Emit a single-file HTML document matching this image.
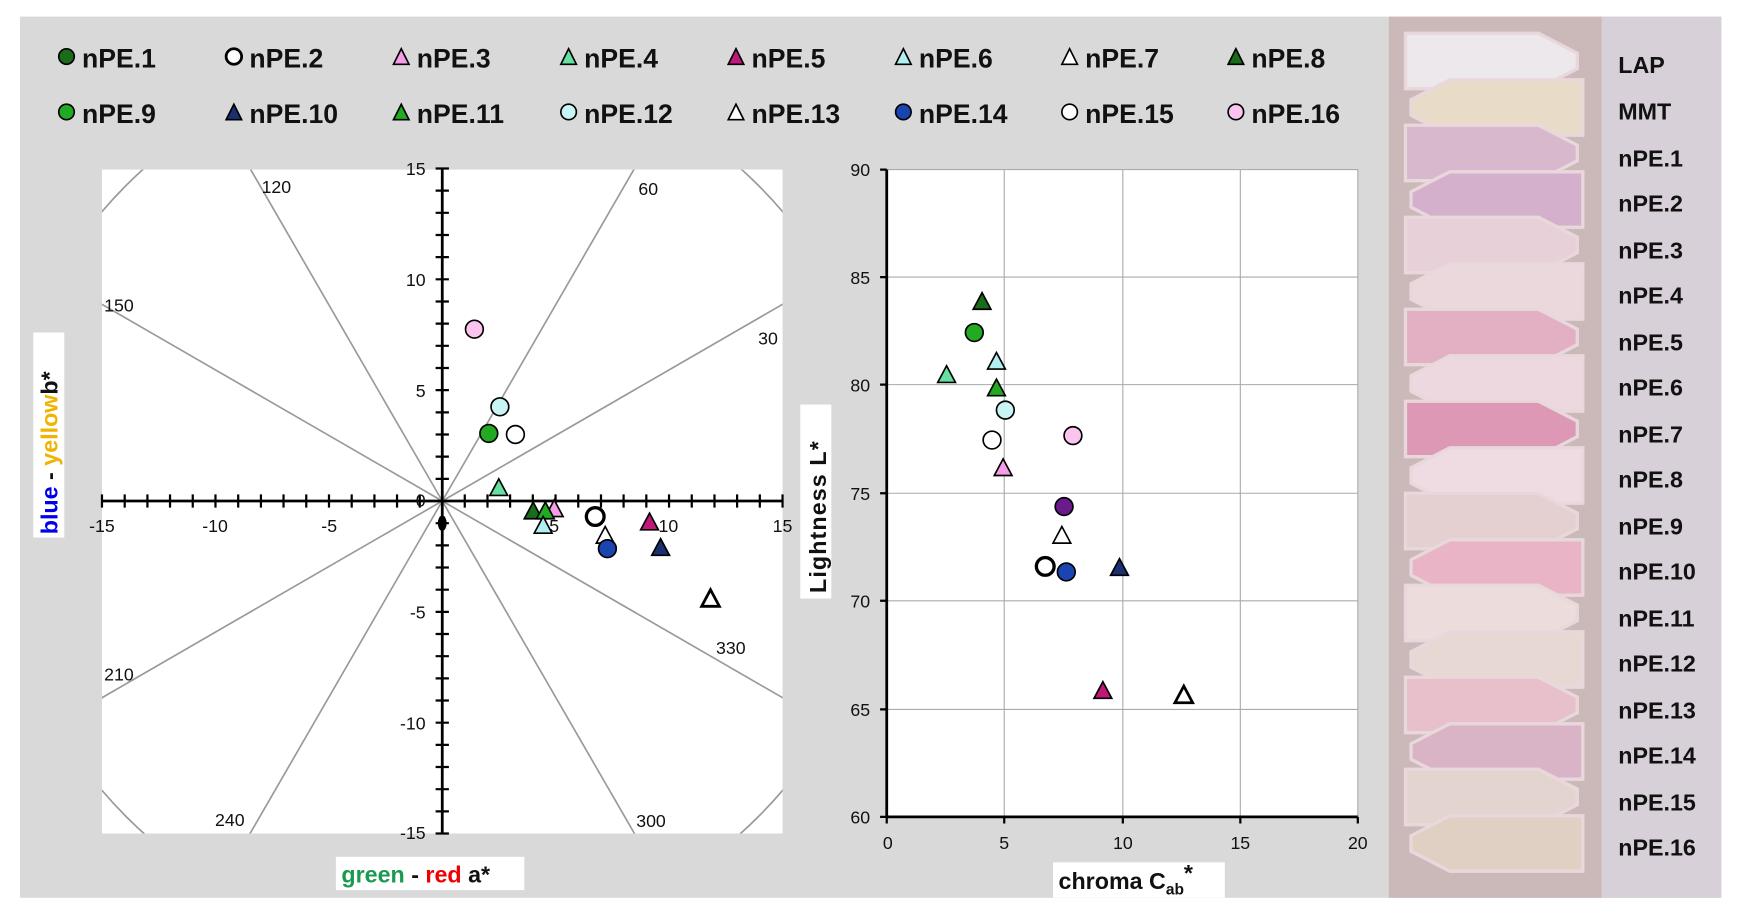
<!DOCTYPE html>
<html><head><meta charset="utf-8"><style>
html,body{margin:0;padding:0;background:#fff;}
svg{display:block;}
text{font-family:"Liberation Sans",Arial,sans-serif;}
.lg{font-size:24px;font-weight:bold;fill:#111;}
.tk{font-size:16px;fill:#111;}
.an{font-size:16px;fill:#111;}
.rl{font-size:21px;font-weight:bold;fill:#111;}
</style></head><body>
<svg width="1738" height="916" viewBox="0 0 1568 826.4" preserveAspectRatio="none" xmlns="http://www.w3.org/2000/svg">
<rect x="0" y="0" width="1568" height="827" fill="#fff"/>
<rect x="18" y="15" width="1535" height="795" fill="#d9d9d9"/>
<g stroke="#000" stroke-width="1.5">
<circle cx="60" cy="51" r="7" fill="#1a6b1a"/>
<circle cx="211" cy="51" r="7" fill="#fff" stroke-width="2.5"/>
<polygon points="362,44 355,58 369,58" fill="#f59ee8"/>
<polygon points="513,44 506,58 520,58" fill="#66e0a0"/>
<polygon points="664,44 657,58 671,58" fill="#c0187a"/>
<polygon points="815,44 808,58 822,58" fill="#b0f0f0"/>
<polygon points="965,44 958,58 972,58" fill="#fff"/>
<polygon points="1115,44 1108,58 1122,58" fill="#1a6b1a"/>
<circle cx="60" cy="101" r="7" fill="#22aa22"/>
<polygon points="211,94 204,108 218,108" fill="#1a3070"/>
<polygon points="362,94 355,108 369,108" fill="#22aa22"/>
<circle cx="513" cy="101" r="7" fill="#c8f4f4"/>
<polygon points="664,94 657,108 671,108" fill="#fff"/>
<circle cx="815" cy="101" r="7" fill="#1a44b0"/>
<circle cx="965" cy="101" r="7" fill="#fff"/>
<circle cx="1115" cy="101" r="7" fill="#fbc4ee"/>
</g>
<g class="lg">
<text x="74" y="61">nPE.1</text><text x="225" y="61">nPE.2</text><text x="376" y="61">nPE.3</text><text x="527" y="61">nPE.4</text>
<text x="678" y="61">nPE.5</text><text x="829" y="61">nPE.6</text><text x="979" y="61">nPE.7</text><text x="1129" y="61">nPE.8</text>
<text x="74" y="111">nPE.9</text><text x="225" y="111">nPE.10</text><text x="376" y="111">nPE.11</text><text x="527" y="111">nPE.12</text>
<text x="678" y="111">nPE.13</text><text x="829" y="111">nPE.14</text><text x="979" y="111">nPE.15</text><text x="1129" y="111">nPE.16</text>
</g>
<defs><clipPath id="cl"><rect x="92" y="153" width="614" height="599"/></clipPath></defs>
<rect x="92" y="153" width="614" height="599" fill="#fff"/>
<g clip-path="url(#cl)" stroke="#999" stroke-width="1.5" fill="none">
<circle cx="399" cy="452" r="403"/>
<line x1="399" y1="452" x2="745" y2="252"/><line x1="399" y1="452" x2="53" y2="652"/>
<line x1="399" y1="452" x2="599" y2="106"/><line x1="399" y1="452" x2="199" y2="798"/>
<line x1="399" y1="452" x2="199" y2="106"/><line x1="399" y1="452" x2="599" y2="798"/>
<line x1="399" y1="452" x2="53" y2="252"/><line x1="399" y1="452" x2="745" y2="652"/>
</g>
<g class="an">
<text x="236" y="174">120</text><text x="576" y="176">60</text><text x="94" y="281">150</text><text x="684" y="311">30</text>
<text x="94" y="614">210</text><text x="646" y="590">330</text><text x="194" y="745">240</text><text x="574" y="746">300</text>
</g>
<g stroke="#000" stroke-width="2.5">
<line x1="92" y1="452" x2="706" y2="452"/><line x1="399" y1="152" x2="399" y2="752"/>
</g>
<g stroke="#000" stroke-width="2">
<path d="M92.0,446v12M112.5,446v12M133.0,446v12M153.4,446v12M173.9,446v12M194.4,446v12M214.9,446v12M235.4,446v12M255.8,446v12M276.3,446v12M296.8,446v12M317.3,446v12M337.8,446v12M358.2,446v12M378.7,446v12M419.3,446v12M439.8,446v12M460.2,446v12M480.7,446v12M501.2,446v12M521.7,446v12M542.2,446v12M562.6,446v12M583.1,446v12M603.6,446v12M624.1,446v12M644.6,446v12M665.0,446v12M685.5,446v12M706.0,446v12"/>
<path d="M393,152h12M393,172h12M393,192h12M393,212h12M393,232h12M393,252h12M393,272h12M393,292h12M393,312h12M393,332h12M393,352h12M393,372h12M393,392h12M393,412h12M393,432h12M393,472h12M393,492h12M393,512h12M393,532h12M393,552h12M393,572h12M393,592h12M393,612h12M393,632h12M393,652h12M393,672h12M393,692h12M393,712h12M393,732h12M393,752h12"/>
</g>
<g class="tk" text-anchor="middle">
<text x="92" y="480">-15</text><text x="194" y="480">-10</text><text x="297" y="480">-5</text><text x="500" y="480">5</text><text x="603" y="480">10</text><text x="706" y="480">15</text>
</g>
<g class="tk" text-anchor="end">
<text x="384" y="158">15</text><text x="384" y="258">10</text><text x="384" y="358">5</text><text x="384" y="457">0</text><text x="384" y="558">-5</text><text x="384" y="658">-10</text><text x="384" y="757">-15</text>
</g>
<ellipse cx="399" cy="472" rx="4" ry="7" fill="#000"/>
<g stroke="#000" stroke-width="1.5">
<circle cx="428" cy="297" r="8" fill="#fbc4ee"/>
<circle cx="451" cy="367" r="8" fill="#c8f4f4"/>
<circle cx="441" cy="391" r="8" fill="#22aa22"/>
<circle cx="465" cy="392" r="8" fill="#fff"/>
<polygon points="450,432 442,447 458,447" fill="#66e0a0"/>
<polygon points="481,453 473,468 489,468" fill="#1a6b1a"/>
<polygon points="500,451 492,466 508,466" fill="#f59ee8"/>
<polygon points="492,453 484,468 500,468" fill="#22aa22"/>
<polygon points="490,466 482,481 498,481" fill="#b0f0f0"/>
<circle cx="537" cy="466" r="8" fill="#fff" stroke-width="3"/>
<polygon points="546,475 538,490 554,490" fill="#fff"/>
<circle cx="548" cy="495" r="8" fill="#1a44b0"/>
<polygon points="586,463 578,478 594,478" fill="#c0187a"/>
<polygon points="596,486 588,501 604,501" fill="#1a3070"/>
<polygon points="641,532 633,547 649,547" fill="#fff" stroke-width="2.5"/>
</g>
<rect x="30" y="300" width="28" height="185" fill="#fff"/>
<text transform="translate(52,482) rotate(-90)" font-size="21" font-weight="bold"><tspan fill="#0000ee">blue</tspan><tspan fill="#111"> - </tspan><tspan fill="#f0b400">yellow</tspan><tspan fill="#111">b*</tspan></text>
<rect x="303" y="773" width="170" height="30" fill="#fff"/>
<text x="308" y="796" font-size="21" font-weight="bold"><tspan fill="#1a9a50">green</tspan><tspan fill="#111"> - </tspan><tspan fill="#ee0000">red</tspan><tspan fill="#111"> a*</tspan></text>
<rect x="800" y="153" width="425" height="584" fill="#fff"/>
<g stroke="#aaa" stroke-width="1">
<line x1="906" y1="153" x2="906" y2="737"/><line x1="1013" y1="153" x2="1013" y2="737"/><line x1="1119" y1="153" x2="1119" y2="737"/>
<line x1="800" y1="250" x2="1225" y2="250"/><line x1="800" y1="347" x2="1225" y2="347"/><line x1="800" y1="445" x2="1225" y2="445"/><line x1="800" y1="542" x2="1225" y2="542"/><line x1="800" y1="640" x2="1225" y2="640"/>
</g>
<rect x="800" y="153" width="425" height="584" fill="none" stroke="#aaa" stroke-width="1"/>
<g stroke="#000" stroke-width="2.5"><line x1="800" y1="153" x2="800" y2="737"/><line x1="800" y1="737" x2="1225" y2="737"/></g>
<g stroke="#000" stroke-width="2"><path d="M794,153h6M794,250h6M794,347h6M794,445h6M794,542h6M794,640h6M794,737h6M800,737v6M906,737v6M1013,737v6M1119,737v6M1225,737v6"/></g>
<g class="tk" text-anchor="end" font-size="17">
<text x="785" y="159">90</text><text x="785" y="256">85</text><text x="785" y="353">80</text><text x="785" y="451">75</text><text x="785" y="548">70</text><text x="785" y="646">65</text><text x="785" y="743">60</text>
</g>
<g class="tk" text-anchor="middle" font-size="17">
<text x="801" y="766">0</text><text x="906" y="766">5</text><text x="1013" y="766">10</text><text x="1119" y="766">15</text><text x="1225" y="766">20</text>
</g>
<g stroke="#000" stroke-width="1.5">
<polygon points="886,264 878,279 894,279" fill="#1a6b1a"/>
<circle cx="879" cy="300" r="8" fill="#22aa22"/>
<polygon points="854,330 846,345 862,345" fill="#66e0a0"/>
<polygon points="899,318 891,333 907,333" fill="#b0f0f0"/>
<polygon points="899,342 891,357 907,357" fill="#22aa22"/>
<circle cx="907" cy="370" r="8" fill="#c8f4f4"/>
<circle cx="895" cy="397" r="8" fill="#fff"/>
<circle cx="968" cy="393" r="8" fill="#fbc4ee"/>
<polygon points="905,414 897,429 913,429" fill="#f59ee8"/>
<circle cx="960" cy="457" r="8" fill="#6a1a8a"/>
<polygon points="958,475 950,490 966,490" fill="#fff"/>
<circle cx="943" cy="511" r="8" fill="#fff" stroke-width="3"/>
<circle cx="962" cy="516" r="8" fill="#1a44b0"/>
<polygon points="1010,504 1002,519 1018,519" fill="#1a3070"/>
<polygon points="995,615 987,630 1003,630" fill="#c0187a"/>
<polygon points="1068,619 1060,634 1076,634" fill="#fff" stroke-width="2.5"/>
</g>
<rect x="722" y="365" width="28" height="175" fill="#fff"/>
<text transform="translate(745,535) rotate(-90)" font-size="21" font-weight="bold" fill="#111" letter-spacing="1">Lightness  L*</text>
<rect x="950" y="778" width="155" height="32" fill="#fff"/>
<text x="955" y="802" font-size="21" font-weight="bold" fill="#111">chroma C<tspan font-size="14" dy="5">ab</tspan><tspan dy="-12">*</tspan></text>
<rect x="1445" y="15" width="108" height="795" fill="#d8d0d8"/>
<rect x="1253" y="15" width="192" height="795" fill="#cbb8b8"/>
<g stroke="#e8d8dc" stroke-width="3">
<path d="M1268,30 h120 l35,18 v14 l-35,18 h-120z" fill="#ece8ec"/>
<path d="M1428,72 h-120 l-35,18 v14 l35,18 h120z" fill="#e8dcc8"/>
<path d="M1268,113 h120 l35,18 v14 l-35,18 h-120z" fill="#d8b8cc"/>
<path d="M1428,155 h-120 l-35,18 v14 l35,18 h120z" fill="#d4b0cc"/>
<path d="M1268,196 h120 l35,18 v14 l-35,18 h-120z" fill="#e8d0d8"/>
<path d="M1428,238 h-120 l-35,18 v14 l35,18 h120z" fill="#ead8dc"/>
<path d="M1268,279 h120 l35,18 v14 l-35,18 h-120z" fill="#e2b0c2"/>
<path d="M1428,321 h-120 l-35,18 v14 l35,18 h120z" fill="#eed8e0"/>
<path d="M1268,362 h120 l35,18 v14 l-35,18 h-120z" fill="#dc98b4"/>
<path d="M1428,404 h-120 l-35,18 v14 l35,18 h120z" fill="#eedce2"/>
<path d="M1268,445 h120 l35,18 v14 l-35,18 h-120z" fill="#e4d0d0"/>
<path d="M1428,487 h-120 l-35,18 v14 l35,18 h120z" fill="#e8b4c6"/>
<path d="M1268,528 h120 l35,18 v14 l-35,18 h-120z" fill="#ecdcdc"/>
<path d="M1428,570 h-120 l-35,18 v14 l35,18 h120z" fill="#e8d8d4"/>
<path d="M1268,611 h120 l35,18 v14 l-35,18 h-120z" fill="#e8c0cc"/>
<path d="M1428,653 h-120 l-35,18 v14 l35,18 h120z" fill="#d8b4c6"/>
<path d="M1268,694 h120 l35,18 v14 l-35,18 h-120z" fill="#e4d4d0"/>
<path d="M1428,736 h-120 l-35,18 v14 l35,18 h120z" fill="#e0d0c4"/>
</g>
<g class="rl">
<text x="1460" y="66">LAP</text><text x="1460" y="108">MMT</text><text x="1460" y="150">nPE.1</text><text x="1460" y="191">nPE.2</text>
<text x="1460" y="233">nPE.3</text><text x="1460" y="274">nPE.4</text><text x="1460" y="316">nPE.5</text><text x="1460" y="357">nPE.6</text>
<text x="1460" y="399">nPE.7</text><text x="1460" y="440">nPE.8</text><text x="1460" y="482">nPE.9</text><text x="1460" y="523">nPE.10</text>
<text x="1460" y="565">nPE.11</text><text x="1460" y="606">nPE.12</text><text x="1460" y="648">nPE.13</text><text x="1460" y="689">nPE.14</text>
<text x="1460" y="731">nPE.15</text><text x="1460" y="772">nPE.16</text>
</g>
</svg>
</body></html>
